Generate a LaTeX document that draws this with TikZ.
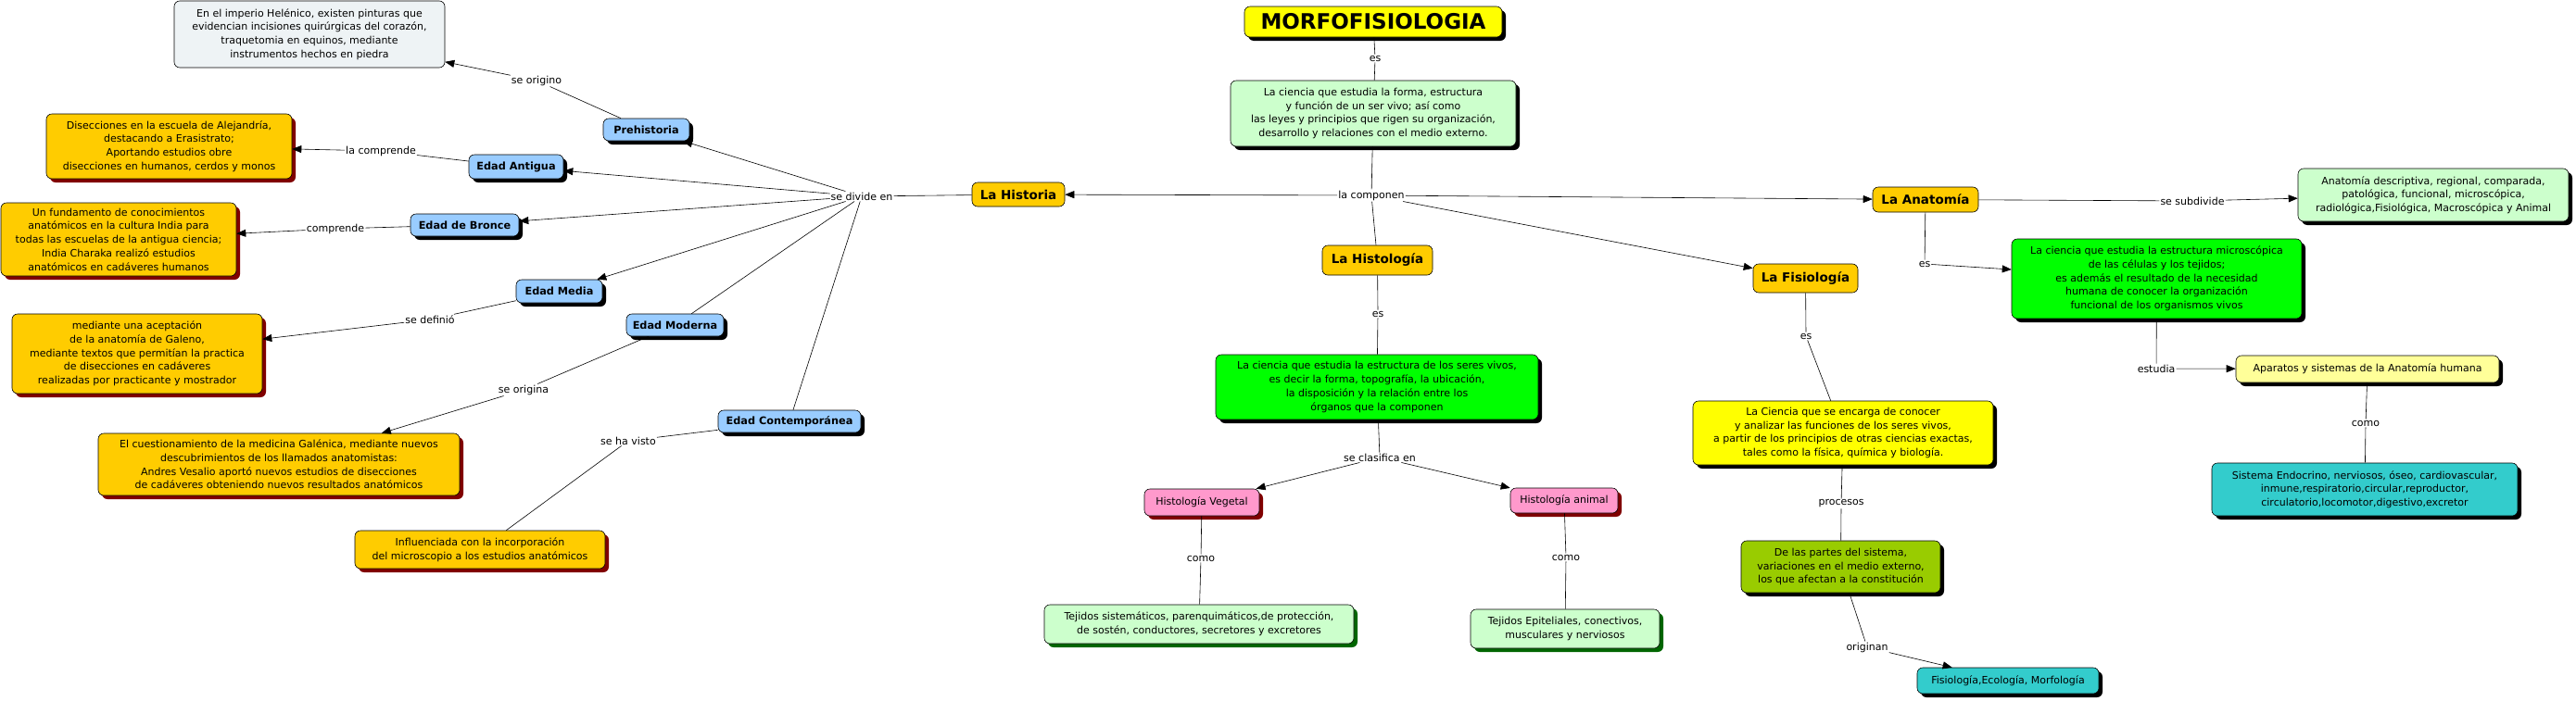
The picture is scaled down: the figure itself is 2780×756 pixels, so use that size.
\documentclass[tikz,border=0pt]{standalone}
\usepackage{fontspec}
\setmainfont{DejaVu Sans}
\usetikzlibrary{arrows.meta,shadows}
\definecolor{cyel}{HTML}{FFFF00}
\definecolor{clgreen}{HTML}{CCFFCC}
\definecolor{corange}{HTML}{FFCC00}
\definecolor{cblue}{HTML}{99CCFF}
\definecolor{cgreen}{HTML}{00FF00}
\definecolor{cpink}{HTML}{FF99CC}
\definecolor{colive}{HTML}{99CC00}
\definecolor{cteal}{HTML}{33CCCC}
\definecolor{clyel}{HTML}{FFFF99}
\definecolor{cgrey}{HTML}{EEF3F5}
\definecolor{cmaroon}{HTML}{800000}
\definecolor{cdkgreen}{HTML}{006600}
\begin{document}
\begin{tikzpicture}[x=1pt,y=-1pt,
  every node/.style={font=\fontsize{11}{14.7}\selectfont},
  box/.style={draw=black, line width=0.6pt, rounded corners=6pt, align=center, inner sep=2pt},
  concept/.style={box, fill=corange, font=\bfseries\fontsize{13.5}{16}\selectfont},
  period/.style={box, fill=cblue, shblack, font=\bfseries\fontsize{11.3}{14}\selectfont},
  shblack/.style={drop shadow={shadow xshift=4pt,shadow yshift=-4pt,fill=black,opacity=1}},
  shred/.style={drop shadow={shadow xshift=4pt,shadow yshift=-4pt,fill=cmaroon,opacity=1}},
  shgreen/.style={drop shadow={shadow xshift=4pt,shadow yshift=-4pt,fill=cdkgreen,opacity=1}},
  lbl/.style={fill=white, inner sep=1pt},
  conn/.style={draw, line width=0.6pt},
  arr/.style={conn, -{Triangle[length=10pt,width=8pt]}}
]
\useasboundingbox (0,0) rectangle (2780,756);
% ---- concepts
\node[box, fill=cyel, shblack, minimum width=278pt, minimum height=33pt, font=\bfseries\fontsize{23}{26}\selectfont] (morfo) at (1482,23.5) {MORFOFISIOLOGIA};
\node[box, fill=clgreen, shblack, minimum width=308pt, minimum height=71pt] (ciencia) at (1482,122.5) {La ciencia que estudia la forma, estructura\\y función de un ser vivo; así como\\las  leyes y principios que rigen su organización,\\desarrollo y relaciones con el medio externo.};
\node[concept, minimum width=100pt, minimum height=26pt] (historia) at (1099,210) {La Historia};
\node[concept, minimum width=119pt, minimum height=32pt] (histologia) at (1486.5,281) {La Histología};
\node[concept, minimum width=114pt, minimum height=27pt] (anatomia) at (2078,215.5) {La Anatomía};
\node[concept, minimum width=113pt, minimum height=31pt] (fisiologia) at (1948.5,300.5) {La Fisiología};
% ---- historia branch
\node[box, fill=cgrey, minimum width=292pt, minimum height=72pt] (helenico) at (334,37) {En el imperio Helénico, existen pinturas que\\evidencian incisiones quirúrgicas del corazón,\\traquetomia en equinos, mediante\\instrumentos hechos en piedra};
\node[period, minimum width=93pt, minimum height=24pt] (prehistoria) at (697.5,140) {Prehistoria};
\node[period, minimum width=102pt, minimum height=26pt] (antigua) at (557,180) {Edad Antigua};
\node[period, minimum width=117pt, minimum height=24pt] (bronce) at (501.5,243) {Edad de Bronce};
\node[period, minimum width=93pt, minimum height=25pt] (media) at (603.5,314.5) {Edad Media};
\node[period, minimum width=105pt, minimum height=24pt] (moderna) at (728.5,351) {Edad Moderna};
\node[period, minimum width=154pt, minimum height=24pt] (contemp) at (852,455) {Edad Contemporánea};
\node[box, fill=corange, shred, minimum width=265pt, minimum height=70pt] (disecciones) at (182.5,158) {Disecciones en la escuela de Alejandría,\\destacando a Erasistrato;\\Aportando estudios obre\\disecciones en humanos, cerdos y monos};
\node[box, fill=corange, shred, minimum width=254pt, minimum height=79pt] (fundamento) at (128,258.5) {Un fundamento de conocimientos\\anatómicos  en la cultura India para\\todas las escuelas de la antigua ciencia;\\India Charaka realizó estudios\\anatómicos en cadáveres humanos};
\node[box, fill=corange, shred, minimum width=270pt, minimum height=86pt] (mediante) at (148,382) {mediante una aceptación\\de la anatomía de Galeno,\\mediante textos  que permitían la practica\\de disecciones en cadáveres\\realizadas por practicante y mostrador};
\node[box, fill=corange, shred, minimum width=390pt, minimum height=67pt] (cuestion) at (301,501.5) {El cuestionamiento de la medicina Galénica, mediante nuevos\\descubrimientos de los llamados anatomistas:\\Andres Vesalio aportó nuevos estudios de disecciones\\de cadáveres obteniendo nuevos resultados anatómicos};
\node[box, fill=corange, shred, minimum width=270pt, minimum height=41pt] (influenciada) at (518,593.5) {Influenciada con la incorporación\\del microscopio a los estudios anatómicos};
% ---- histologia branch
\node[box, fill=cgreen, shblack, minimum width=348pt, minimum height=70pt] (cienciahist) at (1486,418) {La ciencia que estudia  la estructura de los seres vivos,\\es decir la forma, topografía, la ubicación,\\la disposición y la relación entre los\\órganos que la componen};
\node[box, fill=cpink, shred, minimum width=124pt, minimum height=29pt] (hveg) at (1297,542.5) {Histología Vegetal};
\node[box, fill=cpink, shred, minimum width=116pt, minimum height=27pt] (hani) at (1688,540.5) {Histología animal};
\node[box, fill=clgreen, shgreen, minimum width=334pt, minimum height=42pt] (tsis) at (1294,674) {Tejidos sistemáticos, parenquimáticos,de protección,\\de sostén, conductores, secretores y excretores};
\node[box, fill=clgreen, shgreen, minimum width=204pt, minimum height=42pt] (tepi) at (1689,679) {Tejidos Epiteliales, conectivos,\\musculares y nerviosos};
% ---- fisiologia branch
\node[box, fill=cyel, shblack, minimum width=324pt, minimum height=69pt] (cfis) at (1989,467.5) {La Ciencia que se encarga de conocer\\y analizar las funciones de los seres vivos,\\a partir de los principios de otras ciencias exactas,\\tales como la física, química y biología.};
\node[box, fill=colive, shblack, minimum width=215pt, minimum height=56pt] (partes) at (1986.5,612) {De las partes del sistema,\\variaciones en el medio externo,\\los que afectan a la constitución};
\node[box, fill=cteal, shblack, minimum width=196pt, minimum height=28pt] (fisecol) at (2167,735) {Fisiología,Ecología, Morfología};
% ---- anatomia branch
\node[box, fill=cgreen, shblack, minimum width=313pt, minimum height=86pt] (cana) at (2327.5,301) {La ciencia que estudia la estructura microscópica\\de las células y los tejidos;\\es además el resultado de la necesidad\\humana de conocer la  organización\\funcional de los organismos vivos};
\node[box, fill=clgreen, shblack, minimum width=292pt, minimum height=57pt] (anadesc) at (2626,210.5) {Anatomía descriptiva, regional, comparada,\\patológica, funcional, microscópica,\\radiológica,Fisiológica, Macroscópica y Animal};
\node[box, fill=clyel, shblack, minimum width=284pt, minimum height=29pt] (aparatos) at (2555,398.5) {Aparatos y sistemas de la Anatomía humana};
\node[box, fill=cteal, shblack, minimum width=330pt, minimum height=57pt] (sistema) at (2552,528.5) {Sistema Endocrino, nerviosos, óseo, cardiovascular,\\inmune,respiratorio,circular,reproductor,\\circulatorio,locomotor,digestivo,excretor};
% ---- link labels
\node[lbl] (les1) at (1484,63) {es};
\node[lbl] (lcomp) at (1480,211) {la componen};
\node[lbl] (ldivide) at (930,212) {se divide en};
\node[lbl] (lorigino) at (579,87) {se origino};
\node[lbl] (llacomp) at (411,163) {la comprende};
\node[lbl] (lcompr) at (362,247) {comprende};
\node[lbl] (ldefinio) at (464,345) {se definió};
\node[lbl] (lorigina) at (565,421) {se origina};
\node[lbl] (lhavisto) at (678,476) {se ha visto};
\node[lbl] (les2) at (1487,339) {es};
\node[lbl] (lclas) at (1489,494) {se clasifica en};
\node[lbl] (lcomo1) at (1296,603) {como};
\node[lbl] (lcomo2) at (1690,602) {como};
\node[lbl] (les3) at (2077,285) {es};
\node[lbl] (les4) at (1949,363) {es};
\node[lbl] (lsubdiv) at (2366,217) {se subdivide};
\node[lbl] (lestudia) at (2327,398) {estudia};
\node[lbl] (lcomo3) at (2553,457) {como};
\node[lbl] (lprocesos) at (1987,544) {procesos};
\node[lbl] (loriginan) at (2015,699) {originan};
% ---- connectors
\path[conn] (morfo) -- (les1);
\path[conn] (les1) -- (ciencia);
\path[conn] (ciencia) -- (lcomp);
\path[arr] (lcomp) -- (historia);
\path[arr] (lcomp) -- (anatomia);
\path[arr] (lcomp) -- (fisiologia);
\path[conn] (lcomp) -- (histologia);
\path[conn] (historia) -- (ldivide);
\path[arr] (ldivide) -- (prehistoria);
\path[arr] (ldivide) -- (antigua);
\path[arr] (ldivide) -- (bronce);
\path[arr] (ldivide) -- (media);
\path[conn] (ldivide) -- (moderna);
\path[conn] (ldivide) -- (contemp);
\path[conn] (prehistoria) -- (lorigino);
\path[arr] (lorigino) -- (helenico);
\path[conn] (antigua) -- (llacomp);
\path[arr] (llacomp) -- (disecciones);
\path[conn] (bronce) -- (lcompr);
\path[arr] (lcompr) -- (fundamento);
\path[conn] (media) -- (ldefinio);
\path[arr] (ldefinio) -- (mediante);
\path[conn] (moderna) -- (lorigina);
\path[arr] (lorigina) -- (cuestion);
\path[conn] (contemp) -- (lhavisto);
\path[conn] (lhavisto) -- (influenciada);
\path[conn] (histologia) -- (les2);
\path[conn] (les2) -- (cienciahist);
\path[conn] (cienciahist) -- (lclas);
\path[arr] (lclas) -- (hveg);
\path[arr] (lclas) -- (hani);
\path[conn] (hveg) -- (lcomo1);
\path[conn] (lcomo1) -- (tsis);
\path[conn] (hani) -- (lcomo2);
\path[conn] (lcomo2) -- (tepi);
\path[conn] (anatomia) -- (lsubdiv);
\path[arr] (lsubdiv) -- (anadesc);
\path[conn] (anatomia) -- (les3);
\path[arr] (les3) -- (cana);
\path[conn] (cana) -- (lestudia);
\path[arr] (lestudia) -- (aparatos);
\path[conn] (aparatos) -- (lcomo3);
\path[conn] (lcomo3) -- (sistema);
\path[conn] (fisiologia) -- (les4);
\path[conn] (les4) -- (cfis);
\path[conn] (cfis) -- (lprocesos);
\path[conn] (lprocesos) -- (partes);
\path[conn] (partes) -- (loriginan);
\path[arr] (loriginan) -- (fisecol);
\end{tikzpicture}
\end{document}
